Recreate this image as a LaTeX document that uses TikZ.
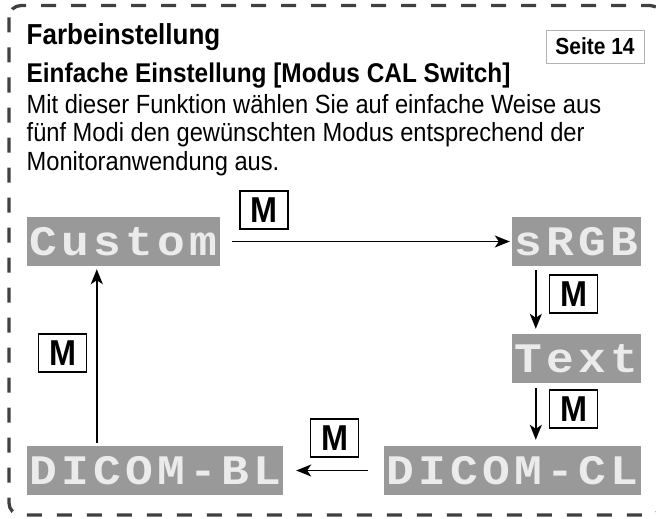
\documentclass[tikz,border=0pt]{standalone}
\usepackage{fontspec}
\setmainfont[FakeStretch=0.9]{Liberation Sans}
\newfontfamily\osdfont[FakeStretch=1.1]{Liberation Mono}
\usetikzlibrary{arrows.meta}
\newcommand{\osdchars}[1]{\foreach \ch in {#1}{\makebox[32pt]{\ch}}}

\begin{document}
\begin{tikzpicture}[x=1pt,y=-1pt,
  mode/.style={fill=black!40,text=black!8,inner sep=0pt,minimum height=49pt,font=\osdfont\bfseries\fontsize{42}{42}\selectfont},
  mkey/.style={draw,line width=1.5pt,minimum width=48pt,minimum height=38pt,inner sep=0pt,font=\bfseries\fontsize{36}{36}\selectfont},
  flow/.style={-{Stealth[length=15pt,width=12pt,inset=4pt]},line width=1.4pt},
  txt/.style={anchor=base west,inner sep=0pt,font=\fontsize{26.3}{30}\selectfont}]
\useasboundingbox (0,0) rectangle (656,519);
\clip (0,0) rectangle (656,519);
\draw[line width=3.3pt,dash pattern=on 15pt off 15pt,black!75,rounded corners=12pt] (9,5.5) rectangle (662,515);
% headings and text
\node[txt,font=\bfseries\fontsize{28.9}{32}\selectfont] (title) at (26.5,45) {Farbeinstellung};
\node[txt,font=\bfseries\fontsize{27.1}{32}\selectfont] (subtitle) at (26.5,82) {Einfache Einstellung [Modus CAL Switch]};
\node[draw=black!30,line width=0.8pt,minimum width=98pt,minimum height=33pt,inner sep=0pt,font=\bfseries\fontsize{23.3}{24}\selectfont] (page) at (595,46.5) {Seite 14};
\node[txt] (line1) at (26.5,113.4) {Mit dieser Funktion wählen Sie auf einfache Weise aus};
\node[txt] (line2) at (26.5,141.7) {fünf Modi den gewünschten Modus entsprechend der};
\node[txt] (line3) at (26.5,170) {Monitoranwendung aus.};
% modes
\node[mode,minimum width=193pt] (custom) at (123.5,241.5) {\osdchars{C,u,s,t,o,m}};
\node[mode,minimum width=129pt] (srgb) at (576.5,241.5) {\osdchars{s,R,G,B}};
\node[mode,minimum width=129pt] (text) at (576.5,358.5) {\osdchars{T,e,x,t}};
\node[mode,minimum width=257pt] (dicomcl) at (512.5,470.5) {\osdchars{D,I,C,O,M,-,C,L}};
\node[mode,minimum width=256pt] (dicombl) at (155,470.5) {\osdchars{D,I,C,O,M,-,B,L}};
% cycle
\draw[flow,shorten <=12pt,shorten >=2pt] (custom.east) -- (srgb.west);
\draw[flow,shorten <=4pt,shorten >=5pt] ([xshift=24pt]srgb.south west) -- ([xshift=24pt]text.north west);
\draw[flow,shorten <=5pt,shorten >=6pt] ([xshift=24pt]text.south west) -- ([xshift=152pt]dicomcl.north west);
\draw[flow,shorten <=16pt,shorten >=13pt] (dicomcl.west) -- (dicombl.east);
\draw[flow,shorten <=3pt,shorten >=3pt] ([xshift=70pt]dicombl.north west) -- ([xshift=70pt]custom.south west);
\node[mkey] (m1) at (264,210) {M};
\node[mkey] (m2) at (573.5,294) {M};
\node[mkey] (m3) at (573.5,409) {M};
\node[mkey] (m4) at (334.5,438) {M};
\node[mkey] (m5) at (62.5,353) {M};
\end{tikzpicture}
\end{document}
